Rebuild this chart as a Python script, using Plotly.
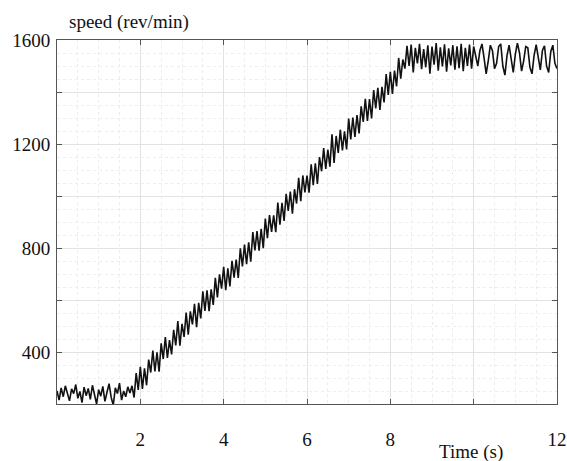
import plotly.graph_objects as go

# Sampling of the recorded speed signal (s)
T_START = 0.0
T_STEP = 0.05

# Speed samples (rev/min)
speed_idle = [250, 215, 262, 228, 270, 235, 212, 258, 240, 275, 222, 248, 205, 265, 232, 260, 218, 272,
              238, 200, 255, 230, 268, 210, 245, 278, 226, 195, 262, 240, 280, 215, 250, 228, 266, 242]
speed_ramp = [270, 225, 319, 254, 343, 258, 337, 272, 371, 321, 405, 325, 399, 324, 433, 373, 457, 377,
              446, 391, 485, 425, 519, 424, 508, 458, 552, 467, 556, 506, 585, 495, 589, 529, 633, 558,
              637, 557, 641, 581, 685, 610, 699, 644, 728, 638, 722, 652, 751, 686, 755, 685, 799, 729,
              813, 738, 822, 747, 861, 791, 865, 790, 874, 799, 913, 838, 927, 862, 926, 861, 975, 890,
              974, 904, 1008, 943, 1017, 932, 1026, 971, 1070, 980, 1079, 1014, 1078, 1013, 1122, 1042,
              1126, 1046, 1150, 1095, 1184, 1104, 1178, 1113, 1237, 1127, 1231, 1166, 1255, 1175, 1249,
              1179, 1298, 1218, 1302, 1227, 1311, 1241, 1345, 1285, 1374, 1289, 1373, 1298, 1407, 1337,
              1416, 1331, 1420, 1360, 1469, 1389, 1478, 1393, 1482, 1422, 1531, 1451, 1525]
speed_steady = [1490, 1578, 1500, 1582, 1475, 1570, 1510, 1585, 1488, 1565, 1495, 1580, 1470, 1575, 1505,
                1588, 1482, 1572, 1498, 1583, 1478, 1568, 1502, 1580, 1486, 1576, 1492, 1585, 1480, 1570,
                1500, 1582, 1490, 1575]
speed_tail = [1540, 1500, 1560, 1585, 1530, 1470, 1520, 1580, 1560, 1490, 1510, 1575, 1585, 1500, 1465,
              1540, 1580, 1530, 1475, 1545, 1588, 1550, 1480, 1520, 1575, 1570, 1495, 1470, 1540, 1582,
              1530, 1485, 1560, 1578, 1500, 1475, 1555, 1580, 1510, 1490]
speed = speed_idle + speed_ramp + speed_steady + speed_tail

x_tickvals = [2, 4, 6, 8, 10, 12]
x_ticktext = ["2", "4", "6", "8", "", "12"]
y_tickvals = [200, 400, 600, 800, 1000, 1200, 1400, 1600]
y_ticktext = ["", "400", "", "800", "", "1200", "", "1600"]

FONT = "Liberation Serif, Times New Roman, serif"
FS = 19

fig = go.Figure()
fig.add_trace(go.Scatter(
    y=speed, x0=T_START, dx=T_STEP, mode="lines",
    line=dict(color="#111111", width=1.6), showlegend=False, hoverinfo="skip"))

axis_common = dict(
    showline=True, linecolor="#555555", linewidth=1, mirror="ticks",
    ticks="inside", ticklen=5, tickcolor="#555555",
    showgrid=True, gridcolor="#e2e2e2", gridwidth=1,
    zeroline=False, automargin=False,
    tickfont=dict(family=FONT, size=FS, color="#111111"),
)

fig.update_xaxes(range=[0, 12], tickvals=x_tickvals, ticktext=x_ticktext,
                 ticklabelstandoff=18,
                 minor=dict(dtick=0.5, showgrid=True, gridcolor="#ededed", griddash="dot"),
                 **axis_common)
fig.update_yaxes(range=[200, 1600], tickvals=y_tickvals, ticktext=y_ticktext,
                 ticklabelstandoff=2,
                 minor=dict(dtick=50, showgrid=True, gridcolor="#ededed", griddash="dot"),
                 **axis_common)

fig.add_annotation(text="speed (rev/min)", xref="paper", yref="paper", x=0.02, y=1.0,
                   xanchor="left", yanchor="middle", yshift=18, showarrow=False,
                   font=dict(family=FONT, size=FS, color="#111111"))
fig.add_annotation(text="Time (s)", xref="paper", yref="paper", x=0.828, y=0.0,
                   xanchor="center", yanchor="middle", yshift=-48, showarrow=False,
                   font=dict(family=FONT, size=FS, color="#111111"))

fig.update_layout(
    width=567, height=461,
    margin=dict(l=57, r=10, t=40, b=57),
    paper_bgcolor="white", plot_bgcolor="white",
)

fig.write_html("out.html",
               config={"displayModeBar": False},
               post_script="document.body.style.margin='0';document.body.style.overflow='hidden';")
